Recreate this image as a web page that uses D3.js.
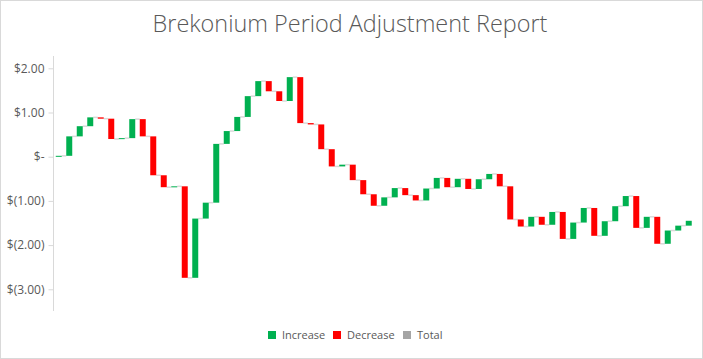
<!DOCTYPE html>
<html>
<head>
<meta charset="utf-8">
<script src="https://cdn.jsdelivr.net/npm/d3@7"></script>
<style>
  html, body { margin: 0; padding: 0; background: #fff; }
  svg { display: block; }
</style>
</head>
<body>
<svg id="chart" width="703" height="359"></svg>
<script>
// ---- data ----
const chartTitle = "Brekonium Period Adjustment Report";
const periods = d3.range(1, 62).map(i => "P" + i);
const deltas = [
  0.02, 0.44, 0.23, 0.20, -0.03, -0.46, 0.02, 0.43, -0.39, -0.88,
  -0.27, 0.02, -2.07, 1.34, 0.36, 1.33, 0.29, 0.32, 0.47, 0.34,
  -0.23, -0.22, 0.54, -1.04, -0.03, -0.56, -0.39, 0.04, -0.35, -0.32,
  -0.26, 0.19, 0.21, -0.16, -0.12, 0.27, 0.24, -0.21, 0.19, -0.23,
  0.22, 0.12, -0.28, -0.75, -0.16, 0.22, -0.18, 0.29, -0.61, 0.37,
  0.33, -0.63, 0.33, 0.34, 0.23, -0.72, 0.25, -0.61, 0.30, 0.11, 0.11
];
const yTicks = [2, 1, 0, -1, -2, -3];
const legendLabels = ["Increase", "Decrease", "Total"];
const legendColors = ["#00B050", "#FF0000", "#A5A5A5"];

// ---- build waterfall ----
let run = 0;
const bars = deltas.map((d, i) => {
  const start = run;
  run = +(run + d).toFixed(4);
  return { key: periods[i], start, end: run, delta: d };
});

const svg = d3.select("#chart");
const W = 703, H = 359;

// chart area border
svg.append("rect").attr("x", 0.5).attr("y", 0.5).attr("width", W - 1).attr("height", H - 1)
  .attr("fill", "#fff").attr("stroke", "#d9d9d9");

const plotLeft = 53.5, plotRight = 694, plotTop = 56, plotBottom = 311;

const x = d3.scaleBand().domain(periods).range([plotLeft, plotRight]).paddingInner(0.43).paddingOuter(0.215);
const y = d3.scaleLinear().domain([-3.5, 2.5]).range([311.4, 46.2]);

const fmt = v => v === 0 ? "$-" : (v < 0 ? "$(" + d3.format(".2f")(-v) + ")" : "$" + d3.format(".2f")(v));

// y axis
const yAxis = d3.axisLeft(y).tickValues(yTicks).tickFormat(fmt).tickSize(5).tickPadding(4);
const gy = svg.append("g").attr("transform", `translate(${plotLeft},0)`).call(yAxis);
gy.select(".domain").remove();
gy.selectAll(".tick line").attr("stroke", "#d9d9d9");
gy.selectAll(".tick text").attr("fill", "#595959")
  .style("font-family", "'Open Sans', 'Noto Sans', sans-serif").style("font-size", "12px");
svg.append("line").attr("x1", plotLeft).attr("x2", plotLeft).attr("y1", plotTop).attr("y2", plotBottom)
  .attr("stroke", "#d9d9d9").attr("stroke-width", 1);

// connectors
const bw = x.bandwidth();
svg.append("g").selectAll("line").data(bars.slice(0, -1)).join("line")
  .attr("x1", (d) => x(d.key) + bw)
  .attr("x2", (d, i) => x(bars[i + 1].key))
  .attr("y1", d => y(d.end)).attr("y2", d => y(d.end))
  .attr("stroke", "#d9d9d9").attr("stroke-width", 1.5);

// bars
svg.append("g").selectAll("rect").data(bars).join("rect")
  .attr("x", d => x(d.key))
  .attr("width", bw)
  .attr("y", d => y(Math.max(d.start, d.end)))
  .attr("height", d => Math.max(1, Math.abs(y(d.start) - y(d.end))))
  .attr("fill", d => d.delta >= 0 ? legendColors[0] : legendColors[1]);

// title
const title = svg.append("text").attr("x", 350).attr("y", 32).attr("text-anchor", "middle")
  .attr("fill", "#595959")
  .style("font-family", "'Open Sans', 'Noto Sans', sans-serif").style("font-weight", 300)
  .style("font-size", "24px").text(chartTitle);
const tw = title.node().getComputedTextLength();
title.style("font-size", (24 * 395 / tw).toFixed(2) + "px");

// legend
const legendX = [268, 333, 403];
const lg = svg.append("g");
legendLabels.forEach((lab, i) => {
  lg.append("rect").attr("x", legendX[i]).attr("y", 331).attr("width", 8).attr("height", 8)
    .attr("fill", legendColors[i]);
  lg.append("text").attr("x", legendX[i] + 14).attr("y", 339).attr("fill", "#595959")
    .style("font-family", "'Open Sans', 'Noto Sans', sans-serif").style("font-size", "11px")
    .text(lab);
});
</script>
</body>
</html>
